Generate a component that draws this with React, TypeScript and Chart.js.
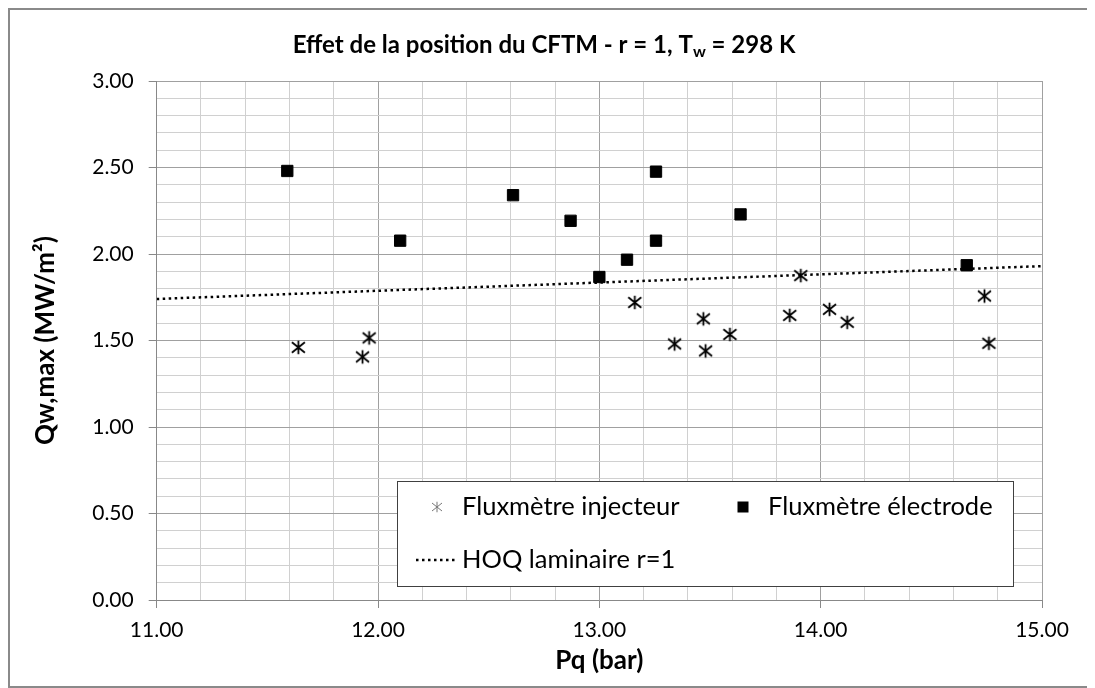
import React, { useEffect, useRef } from 'react';
import { Chart, registerables } from 'chart.js';

Chart.register(...registerables);

// ---- data ----
const injecteurX = [11.64, 11.93, 11.96, 13.16, 13.34, 13.47, 13.48, 13.59, 13.86, 13.91, 14.04, 14.12, 14.74, 14.76];
const injecteurY = [1.46, 1.405, 1.515, 1.72, 1.48, 1.625, 1.44, 1.535, 1.645, 1.875, 1.68, 1.605, 1.757, 1.484];
const electrodeX = [11.59, 12.1, 12.61, 12.87, 13.0, 13.125, 13.256, 13.256, 13.638, 14.66];
const electrodeY = [2.48, 2.077, 2.34, 2.192, 1.867, 1.967, 2.476, 2.077, 2.229, 1.935];
const hoqX = [11, 15];
const hoqY = [1.74, 1.93];
const seriesLabels = ['Fluxmètre injecteur', 'Fluxmètre électrode', 'HOQ laminaire r=1'];
const titleMain = 'Effet de la position du CFTM - r = 1, T';
const titleSub = 'w';
const titleEnd = ' = 298 K';
const xTitle = 'Pq (bar)';
const yTitle = 'Qw,max (MW/m²)';

const FONT = 'Lato, "Open Sans", sans-serif';

function makeStar(size: number, half: number, lw: number, color: string) {
  const c = document.createElement('canvas');
  c.width = size;
  c.height = size;
  const g = c.getContext('2d')!;
  const m = size / 2;
  g.strokeStyle = color;
  g.lineWidth = lw;
  g.beginPath();
  g.moveTo(m - half, m - half * 0.8);
  g.lineTo(m + half, m + half * 0.8);
  g.moveTo(m + half, m - half * 0.8);
  g.lineTo(m - half, m + half * 0.8);
  g.moveTo(m, m - half * 1.05);
  g.lineTo(m, m + half * 1.05);
  g.stroke();
  return c;
}

const isMult = (v: number, step: number) => Math.abs(v / step - Math.round(v / step)) < 1e-6;

const titlePlugin = {
  id: 'subTitle',
  afterDraw(chart: any) {
    const { ctx, width } = chart;
    ctx.save();
    const big = `bold 24px ${FONT}`;
    const small = `bold 16px ${FONT}`;
    ctx.font = big;
    const w1 = ctx.measureText(titleMain).width;
    const w3 = ctx.measureText(titleEnd).width;
    ctx.font = small;
    const w2 = ctx.measureText(titleSub).width;
    const total = w1 + w2 + w3;
    let x = width / 2 - 7 - total / 2;
    const y = 35;
    ctx.fillStyle = '#000';
    ctx.textBaseline = 'middle';
    ctx.textAlign = 'left';
    ctx.font = big;
    ctx.fillText(titleMain, x, y);
    x += w1;
    ctx.font = small;
    ctx.fillText(titleSub, x, y + 7);
    x += w2;
    ctx.font = big;
    ctx.fillText(titleEnd, x, y);
    ctx.restore();
  },
};

const legendPlugin = {
  id: 'insideLegend',
  afterDatasetsDraw(chart: any) {
    const { ctx, chartArea: a } = chart;
    const ds = chart.data.datasets;
    const left = Math.round(a.left + 240);
    const right = Math.round(a.right - 29);
    const top = Math.round(a.bottom - 119);
    const bottom = Math.round(a.bottom - 14);
    ctx.save();
    ctx.fillStyle = '#ffffff';
    ctx.fillRect(left, top, right - left, bottom - top);
    ctx.strokeStyle = '#404040';
    ctx.lineWidth = 1;
    ctx.strokeRect(left + 0.5, top + 0.5, right - left, bottom - top);
    const r1 = a.bottom - 93;
    const r2 = a.bottom - 40;
    ctx.font = `25.5px ${FONT}`;
    ctx.fillStyle = '#000';
    ctx.textBaseline = 'middle';
    ctx.textAlign = 'left';
    const ls = makeStar(14, 5, 1, '#777777');
    ctx.drawImage(ls, left + 40 - 7, r1 - 7);
    ctx.fillText(ds[0].label, left + 65, r1);
    ctx.fillRect(left + 346 - 5.5, r1 - 5.5, 11, 11);
    ctx.fillText(ds[1].label, left + 371, r1);
    ctx.strokeStyle = '#000';
    ctx.lineWidth = 2.5;
    ctx.setLineDash([2.5, 3.5]);
    ctx.beginPath();
    ctx.moveTo(left + 19, r2);
    ctx.lineTo(left + 58, r2);
    ctx.stroke();
    ctx.setLineDash([]);
    ctx.fillText(ds[2].label, left + 65, r2);
    ctx.restore();
  },
};

export default function App() {
  const ref = useRef<HTMLCanvasElement>(null);

  useEffect(() => {
    const star = makeStar(17, 6.5, 1.8, '#000000');
    const chart = new Chart(ref.current!, {
      type: 'scatter',
      data: {
        datasets: [
          {
            label: seriesLabels[0],
            data: injecteurX.map((x, i) => ({ x, y: injecteurY[i] })),
            pointStyle: star as any,
            pointRadius: 8,
            backgroundColor: '#000',
            borderColor: '#000',
          },
          {
            label: seriesLabels[1],
            data: electrodeX.map((x, i) => ({ x, y: electrodeY[i] })),
            pointStyle: 'rect',
            pointRadius: 8,
            borderWidth: 1,
            backgroundColor: '#000',
            borderColor: '#000',
          },
          {
            label: seriesLabels[2],
            data: hoqX.map((x, i) => ({ x, y: hoqY[i] })),
            showLine: true,
            pointRadius: 0,
            borderColor: '#000',
            borderWidth: 2.5,
            borderDash: [2.5, 3.5],
            fill: false,
          } as any,
        ],
      },
      options: {
        responsive: false,
        animation: false,
        devicePixelRatio: 1,
        layout: { padding: { top: 71, right: 50, bottom: 0, left: 0 } },
        plugins: {
          legend: { display: false },
          title: { display: false },
          tooltip: { enabled: false },
        },
        scales: {
          x: {
            type: 'linear',
            min: 11,
            max: 15,
            afterFit: (s: any) => {
              s.height = 86;
            },
            ticks: {
              stepSize: 0.2,
              autoSkip: false,
              maxRotation: 0,
              maxTicksLimit: 100,
              padding: 10,
              color: '#000',
              font: { family: FONT, size: 21 },
              callback: (v: any) => (isMult(Number(v), 1) ? Number(v).toFixed(2) : ''),
            },
            grid: {
              drawTicks: true,
              tickLength: 8,
              color: (c: any) => (isMult(c.tick.value, 1) ? '#a0a0a0' : '#d0d0d0'),
              tickColor: (c: any) => (isMult(c.tick.value, 1) ? '#888888' : 'rgba(0,0,0,0)'),
            },
            border: { color: '#888888', width: 1 },
            title: {
              display: true,
              text: xTitle,
              color: '#000',
              font: { family: FONT, size: 26, weight: 'bold' },
              padding: { top: 0, bottom: 9.5 },
            },
          },
          y: {
            type: 'linear',
            min: 0,
            max: 3,
            afterFit: (s: any) => {
              s.width = 146.7;
            },
            ticks: {
              stepSize: 0.1,
              autoSkip: false,
              maxTicksLimit: 100,
              padding: 15,
              color: '#000',
              font: { family: FONT, size: 21 },
              callback: (v: any) => (isMult(Number(v), 0.5) ? Number(v).toFixed(2) : ''),
            },
            grid: {
              drawTicks: true,
              tickLength: 8,
              color: (c: any) => (isMult(c.tick.value, 0.5) ? '#a0a0a0' : '#d0d0d0'),
              tickColor: (c: any) => (isMult(c.tick.value, 0.5) ? '#888888' : 'rgba(0,0,0,0)'),
            },
            border: { color: '#888888', width: 1 },
            title: {
              display: true,
              text: yTitle,
              color: '#000',
              font: { family: FONT, size: 26, weight: 'bold' },
              padding: { top: 20.5, bottom: 0 },
            },
          },
        },
      },
      plugins: [titlePlugin, legendPlugin],
    } as any);
    return () => chart.destroy();
  }, []);

  return (
    <div style={{ width: 1082, height: 676, border: '2px solid #8a8a8a', background: '#fff' }}>
      <canvas ref={ref} width={1082} height={676} style={{ display: 'block' }} />
    </div>
  );
}
